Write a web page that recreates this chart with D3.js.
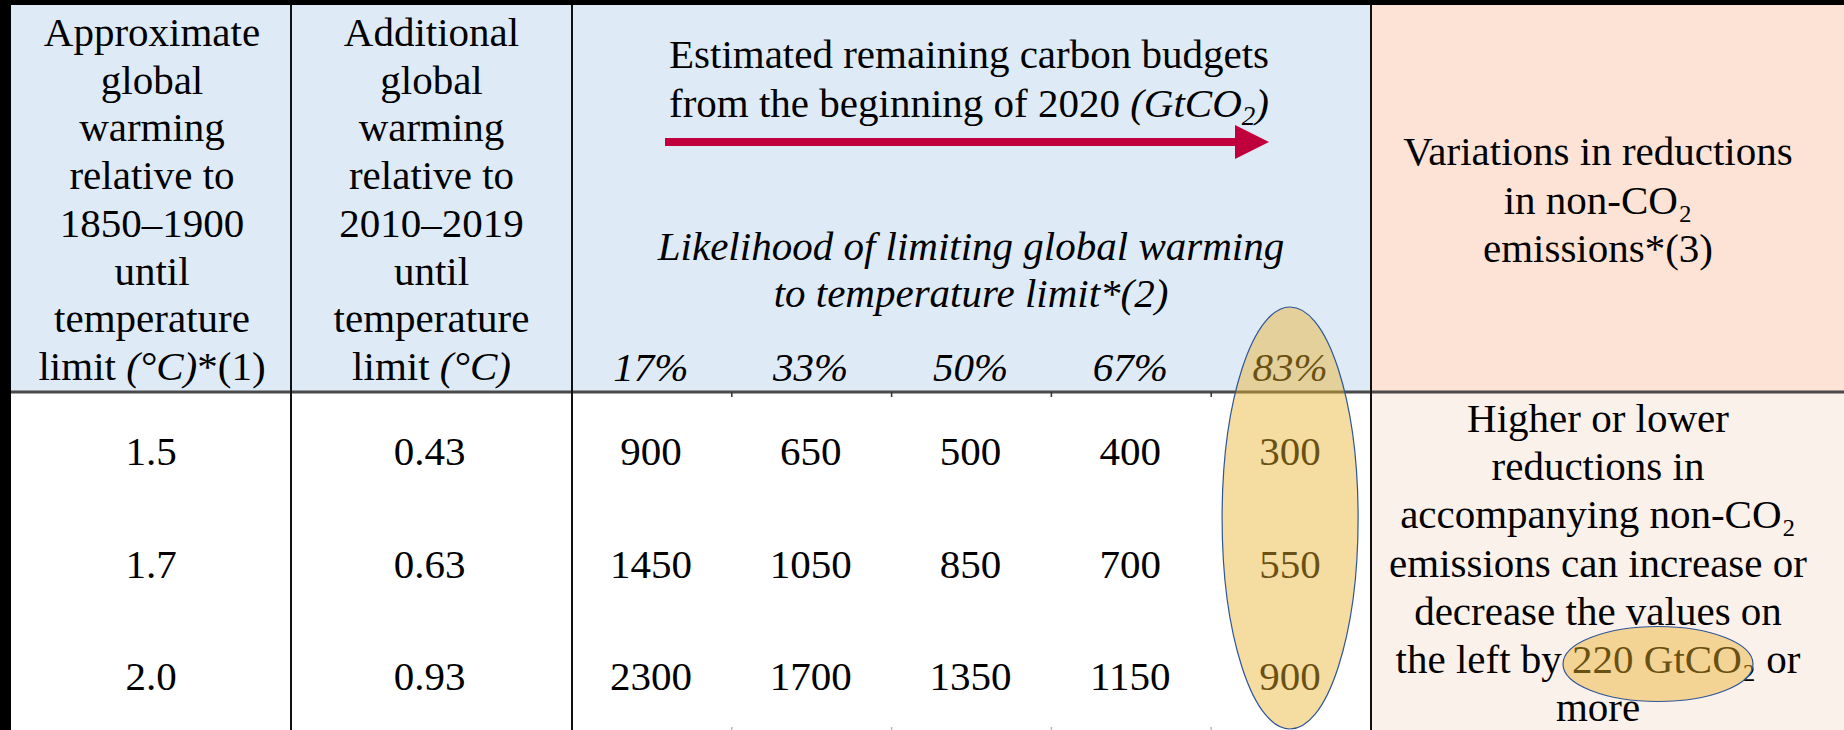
<!DOCTYPE html>
<html>
<head>
<meta charset="utf-8">
<script src="https://cdn.jsdelivr.net/npm/d3@7"></script>
<style>
  html, body { margin: 0; padding: 0; background: #000; }
  svg { display: block; }
  text { font-family: "Liberation Serif", "Times New Roman", serif; fill: #000; }
</style>
</head>
<body>
<svg id="chart" width="1844" height="730"></svg>
<script>
// ---------- data ----------
const warmingLimits = ["1.5", "1.7", "2.0"];
const additionalWarming = ["0.43", "0.63", "0.93"];
const likelihoods = ["17%", "33%", "50%", "67%", "83%"];
const budget17 = [900, 1450, 2300];
const budget33 = [650, 1050, 1700];
const budget50 = [500, 850, 1350];
const budget67 = [400, 700, 1150];
const budget83 = [300, 550, 900];
const col1Header = ["Approximate", "global", "warming", "relative to", "1850\u20131900", "until", "temperature", "limit |(°C)|*(1)"];
const col2Header = ["Additional", "global", "warming", "relative to", "2010\u20132019", "until", "temperature", "limit |(°C)|"];
const budgetTitle = ["Estimated remaining carbon budgets", "from the beginning of 2020 "];
const likelihoodTitle = ["Likelihood of limiting global warming", "to temperature limit*(2)"];
const nonCO2Header = ["Variations in reductions", "in non-CO\u2082", "emissions*(3)"];
const nonCO2Note = ["Higher or lower", "reductions in", "accompanying non-CO\u2082", "emissions can increase or", "decrease the values on", "the left by 220 GtCO\u2082 or", "more"];
const highlightValue = "220 GtCO\u2082";

const budgets = [budget17, budget33, budget50, budget67, budget83];

// ---------- layout ----------
const W = 1844, H = 730;
const tableTop = 5, tableLeft = 11, headerBottom = 392;
const xCol1 = [tableLeft, 291], xCol2 = [291, 572], xBud = [572, 1371], xPeach = [1371, W];
const FS = 41;

const svg = d3.select("#chart");

// scales
const x = d3.scaleBand().domain(likelihoods).range(xBud).paddingInner(0).paddingOuter(0);
const y = d3.scalePoint().domain(d3.range(warmingLimits.length)).range([465, 690]);
const yHead = d3.scaleLinear().domain([0, 7]).range([46, 380]);
const yNote = d3.scaleLinear().domain([0, 6]).range([432, 721]);

// backgrounds
svg.append("rect").attr("x", 0).attr("y", 0).attr("width", W).attr("height", H).attr("fill", "#000");
svg.append("rect").attr("x", tableLeft).attr("y", tableTop).attr("width", xPeach[0] - tableLeft).attr("height", headerBottom - tableTop).attr("fill", "#DEEAF6");
svg.append("rect").attr("x", xPeach[0]).attr("y", tableTop).attr("width", W - xPeach[0]).attr("height", headerBottom - tableTop).attr("fill", "#FCE3D6");
svg.append("rect").attr("x", tableLeft).attr("y", headerBottom).attr("width", xPeach[0] - tableLeft).attr("height", H - headerBottom).attr("fill", "#FFFFFF");
svg.append("rect").attr("x", xPeach[0]).attr("y", headerBottom).attr("width", W - xPeach[0]).attr("height", H - headerBottom).attr("fill", "#FBF1EB");

// header text helper supporting italic segments split by |
function headerLines(lines, cx) {
  const g = svg.append("g");
  lines.forEach((ln, i) => {
    const t = g.append("text")
      .attr("x", cx).attr("y", yHead(i))
      .attr("text-anchor", "middle")
      .attr("font-size", FS);
    ln.split("|").forEach((seg, k) => {
      t.append("tspan").attr("font-style", k % 2 === 1 ? "italic" : "normal").text(seg);
    });
  });
}
headerLines(col1Header, (xCol1[0] + xCol1[1]) / 2 + 1);
headerLines(col2Header, (xCol2[0] + xCol2[1]) / 2);

// budget header
const budCx = 969;
svg.append("text").attr("x", budCx).attr("y", 68).attr("text-anchor", "middle").attr("font-size", FS).text(budgetTitle[0]);
const t2 = svg.append("text").attr("x", budCx).attr("y", 117).attr("text-anchor", "middle").attr("font-size", FS);
t2.append("tspan").text(budgetTitle[1]);
t2.append("tspan").attr("font-style", "italic").text("(GtCO");
t2.append("tspan").attr("font-style", "italic").attr("font-size", 27).attr("dy", 8).text("2");
t2.append("tspan").attr("font-style", "italic").attr("dy", -8).text(")");

// arrow
const arrowY = 142, ax0 = 665, ax1 = 1269;
svg.append("line").attr("x1", ax0).attr("x2", ax1 - 30).attr("y1", arrowY).attr("y2", arrowY)
  .attr("stroke", "#C0003C").attr("stroke-width", 8);
svg.append("path").attr("d", `M${ax1 - 34},${arrowY - 17} L${ax1},${arrowY} L${ax1 - 34},${arrowY + 17} Z`).attr("fill", "#C0003C");

// likelihood titles
svg.append("text").attr("x", 971).attr("y", 260).attr("text-anchor", "middle").attr("font-size", FS).attr("font-style", "italic").text(likelihoodTitle[0]);
svg.append("text").attr("x", 971).attr("y", 307).attr("text-anchor", "middle").attr("font-size", FS).attr("font-style", "italic").text(likelihoodTitle[1]);

// percent labels
svg.append("g").selectAll("text").data(likelihoods).join("text")
  .attr("x", d => x(d) + x.bandwidth() / 2 - 1)
  .attr("y", 381)
  .attr("text-anchor", "middle").attr("font-size", FS).attr("font-style", "italic")
  .text(d => d);

// peach header
nonCO2Header.forEach((ln, i) => {
  svg.append("text").attr("x", 1598).attr("y", 165 + i * 48.5).attr("text-anchor", "middle").attr("font-size", FS).text(ln);
});

// data rows: first two columns
svg.append("g").selectAll("text").data(warmingLimits).join("text")
  .attr("x", (xCol1[0] + xCol1[1]) / 2).attr("y", (d, i) => y(i))
  .attr("text-anchor", "middle").attr("font-size", FS).text(d => d);
svg.append("g").selectAll("text").data(additionalWarming).join("text")
  .attr("x", (xCol2[0] + xCol2[1]) / 2 - 2).attr("y", (d, i) => y(i))
  .attr("text-anchor", "middle").attr("font-size", FS).text(d => d);

// budget values
const cells = [];
budgets.forEach((arr, c) => arr.forEach((v, r) => cells.push({ c: likelihoods[c], r, v })));
svg.append("g").selectAll("text").data(cells).join("text")
  .attr("x", d => x(d.c) + x.bandwidth() / 2 - 1)
  .attr("y", d => y(d.r))
  .attr("text-anchor", "middle").attr("font-size", FS)
  .text(d => d.v);

// peach note
nonCO2Note.forEach((ln, i) => {
  svg.append("text").attr("x", 1598).attr("y", yNote(i)).attr("text-anchor", "middle").attr("font-size", FS).text(ln);
});

// grid lines
svg.append("line").attr("x1", tableLeft).attr("x2", W).attr("y1", headerBottom).attr("y2", headerBottom)
  .attr("stroke", "#4a4a4a").attr("stroke-width", 3);
[xCol1[1], xCol2[1], xPeach[0]].forEach(xx => {
  svg.append("line").attr("x1", xx).attr("x2", xx).attr("y1", tableTop).attr("y2", H)
    .attr("stroke", "#111").attr("stroke-width", 2);
});
// small ticks between budget columns
likelihoods.slice(1).forEach(d => {
  const xx = x(d);
  svg.append("line").attr("x1", xx).attr("x2", xx).attr("y1", headerBottom).attr("y2", headerBottom + 5)
    .attr("stroke", "#333").attr("stroke-width", 1.5);
  svg.append("line").attr("x1", xx).attr("x2", xx).attr("y1", H - 3).attr("y2", H)
    .attr("stroke", "#bbb").attr("stroke-width", 1.5);
});

// highlight ellipses
const e1x = x(likelihoods[4]) + x.bandwidth() / 2 - 1;
svg.append("ellipse").attr("cx", e1x).attr("cy", 518).attr("rx", 68).attr("ry", 211)
  .attr("fill", "#E9B22C").attr("fill-opacity", 0.45)
  .attr("stroke", "#2F5597").attr("stroke-width", 1.2);
svg.append("ellipse").attr("cx", 1658).attr("cy", 664).attr("rx", 95).attr("ry", 37.5)
  .attr("fill", "#E9B22C").attr("fill-opacity", 0.45)
  .attr("stroke", "#2F5597").attr("stroke-width", 1.2)
  .append("title").text(highlightValue);
</script>
</body>
</html>
